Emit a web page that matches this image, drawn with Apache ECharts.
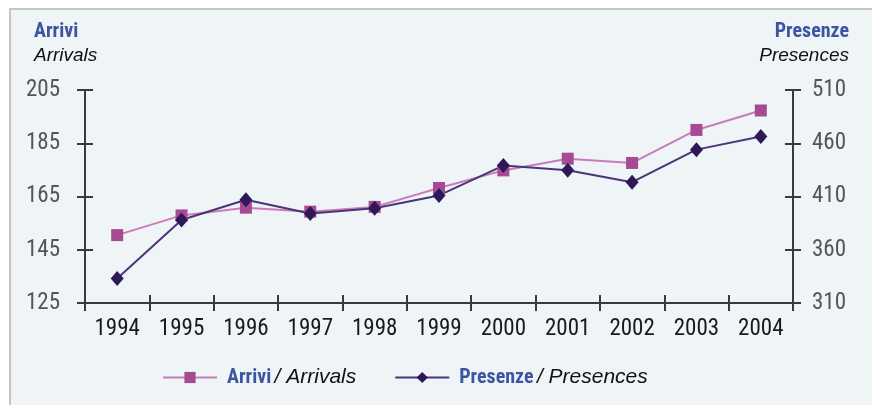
<!DOCTYPE html>
<html><head><meta charset="utf-8">
<script src="https://cdn.jsdelivr.net/npm/echarts@6/dist/echarts.min.js"></script>
<style>html,body{margin:0;padding:0;background:#fff}#c{width:872px;height:405px}</style>
</head><body><div id="c"></div>
<script>
const years = ['1994','1995','1996','1997','1998','1999','2000','2001','2002','2003','2004'];
const arrivi = [150.5, 157.9, 160.8, 159.3, 161.1, 168.2, 174.8, 179.2, 177.6, 190.0, 197.3];
const presenze = [333, 388, 407, 394, 399, 411, 439, 434.6, 423.4, 454, 466.4];
const leftTicks = {min: 125, max: 205, interval: 20};
const rightTicks = {min: 310, max: 510, interval: 50};

const axisCol = '#3a3a3a';
const blue = '#3b55a3';
const cond = '"Roboto Condensed", Roboto, sans-serif';
const sans = '"Liberation Sans", Arial, sans-serif';

const chart = echarts.init(document.getElementById('c'), null, {renderer: 'canvas'});
const tickStyle = {color: axisCol, width: 2};
function yAx(t, pos, inside, labels) {
  return {
    type: 'value', position: pos, min: t.min, max: t.max, interval: t.interval,
    axisLine: {show: labels, lineStyle: {color: axisCol, width: 2}},
    axisTick: {show: true, inside: inside, length: 8, lineStyle: tickStyle},
    axisLabel: {show: labels, color: '#555555', fontSize: 23, fontFamily: cond, margin: pos === 'left' ? 25 : 19},
    splitLine: {show: false}
  };
}
function xAx(inside, labels) {
  return {
    type: 'category', data: years, boundaryGap: true, position: 'bottom',
    axisLine: {show: labels, lineStyle: {color: axisCol, width: 2}},
    axisTick: {show: true, inside: inside, length: 8, interval: 0, lineStyle: tickStyle},
    axisLabel: {show: labels, color: '#1a1a1a', fontSize: 23, fontFamily: cond, margin: 15, interval: 0},
    splitLine: {show: false}
  };
}
chart.setOption({
  animation: false,
  graphic: [
    {type: 'rect', z: -10, silent: true,
     shape: {x: 10, y: 9, width: 880, height: 420},
     style: {fill: '#eff4f6', stroke: '#c4c4c4', lineWidth: 2}},
    {type: 'text', x: 34, y: 31.5, silent: true,
     style: {text: 'Arrivi', font: 'bold 20px ' + cond, fill: blue, textAlign: 'left', textVerticalAlign: 'middle'}},
    {type: 'text', x: 34, y: 56, silent: true,
     style: {text: 'Arrivals', font: 'italic 19px ' + sans, fill: '#111', textAlign: 'left', textVerticalAlign: 'middle'}},
    {type: 'text', x: 849, y: 31.5, silent: true,
     style: {text: 'Presenze', font: 'bold 20px ' + cond, fill: blue, textAlign: 'right', textVerticalAlign: 'middle'}},
    {type: 'text', x: 849, y: 56, silent: true,
     style: {text: 'Presences', font: 'italic 19px ' + sans, fill: '#111', textAlign: 'right', textVerticalAlign: 'middle'}}
  ],
  legend: {
    left: 162, top: 367, padding: 0, itemWidth: 54, itemHeight: 14, itemGap: 38,
    data: ['Arrivi', 'Presenze'],
    formatter: function (n) {
      return n === 'Arrivi' ? '{b|Arrivi} {i|/ Arrivals}' : '{b|Presenze} {i|/ Presences}';
    },
    textStyle: {padding: [0, 0, 0, 5], rich: {
      b: {fontFamily: cond, fontWeight: 'bold', fontSize: 20, color: blue},
      i: {fontFamily: sans, fontStyle: 'italic', fontSize: 21, color: '#111'}}}
  },
  grid: {left: 85, right: 79, top: 90, bottom: 102, containLabel: false},
  xAxis: [xAx(false, true), xAx(true, false)],
  yAxis: [yAx(leftTicks, 'left', false, true), yAx(rightTicks, 'right', false, true),
          yAx(leftTicks, 'left', true, false), yAx(rightTicks, 'right', true, false)],
  series: [
    {name: 'Arrivi', type: 'line', yAxisIndex: 0, data: arrivi, symbol: 'rect', symbolSize: 12,
     lineStyle: {color: '#c87cba', width: 2}, itemStyle: {color: '#a64b93'}},
    {name: 'Presenze', type: 'line', yAxisIndex: 1, data: presenze, symbol: 'diamond', symbolSize: [13, 15],
     lineStyle: {color: '#4b3479', width: 2}, itemStyle: {color: '#2d1858'}}
  ]
});
</script></body></html>
